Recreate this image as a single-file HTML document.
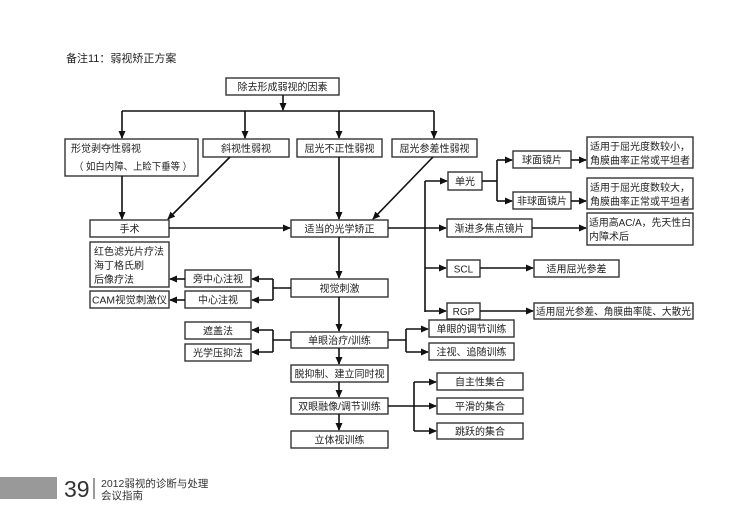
<!DOCTYPE html>
<html><head><meta charset="utf-8"><style>
html,body{margin:0;padding:0;background:#fff;}
svg{display:block;}
text{font-family:"Liberation Sans","Noto Sans CJK SC",sans-serif;font-size:10px;fill:#222;}
.b{fill:#fff;stroke:#333;stroke-width:1.4;}
.l{stroke:#111;stroke-width:1.6;fill:none;}
.a{stroke:#111;stroke-width:1.6;fill:none;marker-end:url(#m);}
</style></head><body>
<svg width="754" height="527" viewBox="0 0 754 527" xmlns="http://www.w3.org/2000/svg">
<defs><marker id="m" markerWidth="8" markerHeight="8" refX="7" refY="4" orient="auto" markerUnits="userSpaceOnUse"><path d="M0,0.5 L8,4 L0,7.5 Z" fill="#111"/></marker></defs>
<text x="66" y="62" style="font-size:11px">备注11：弱视矫正方案</text>

<rect class="b" x="226" y="78" width="113" height="17"/><text x="282.5" y="90.5" text-anchor="middle">除去形成弱视的因素</text>
<line class="a" x1="283" y1="95" x2="283" y2="110"/>
<line class="l" x1="122" y1="111" x2="434" y2="111"/>
<line class="a" x1="122" y1="111" x2="122" y2="138"/>
<line class="a" x1="245" y1="111" x2="245" y2="138"/>
<line class="a" x1="339" y1="111" x2="339" y2="138"/>
<line class="a" x1="434" y1="111" x2="434" y2="138"/>

<rect class="b" x="65" y="139" width="133" height="37"/><text x="71" y="152">形觉剥夺性弱视</text><text x="74" y="170" textLength="118" lengthAdjust="spacingAndGlyphs">（ 如白内障、上睑下垂等 ）</text>
<rect class="b" x="203" y="139" width="86" height="18"/><text x="246" y="152" text-anchor="middle">斜视性弱视</text>
<rect class="b" x="297" y="139" width="85" height="18"/><text x="339.5" y="152" text-anchor="middle">屈光不正性弱视</text>
<rect class="b" x="392" y="139" width="85" height="18"/><text x="434.5" y="152" text-anchor="middle">屈光参差性弱视</text>

<line class="a" x1="122" y1="176" x2="122" y2="219"/>
<line class="a" x1="230" y1="157" x2="168" y2="219"/>
<line class="a" x1="339" y1="157" x2="339" y2="219"/>
<line class="a" x1="433" y1="157" x2="373" y2="219"/>

<rect class="b" x="90" y="220" width="79" height="17"/><text x="129.5" y="232.5" text-anchor="middle">手术</text>
<rect class="b" x="291" y="220" width="97" height="17"/><text x="339.5" y="232.5" text-anchor="middle">适当的光学矫正</text>
<line class="a" x1="169" y1="228" x2="290" y2="228"/>
<line class="a" x1="388" y1="228" x2="446" y2="228"/>

<line class="l" x1="425" y1="181" x2="425" y2="312"/>
<line class="a" x1="425" y1="181" x2="447" y2="181"/>
<rect class="b" x="448" y="172" width="34" height="18"/><text x="465" y="185" text-anchor="middle">单光</text>
<line class="l" x1="482" y1="181" x2="497" y2="181"/>
<line class="l" x1="497" y1="160" x2="497" y2="201"/>
<line class="a" x1="497" y1="160" x2="512" y2="160"/>
<line class="a" x1="497" y1="201" x2="512" y2="201"/>
<rect class="b" x="513" y="151" width="58" height="17"/><text x="542" y="163.5" text-anchor="middle">球面镜片</text>
<rect class="b" x="513" y="192" width="58" height="17"/><text x="542" y="204.5" text-anchor="middle">非球面镜片</text>
<line class="a" x1="571" y1="160" x2="586" y2="160"/>
<line class="a" x1="571" y1="201" x2="586" y2="201"/>
<rect class="b" x="587" y="137" width="106" height="31"/><text x="590" y="150" textLength="100" lengthAdjust="spacingAndGlyphs">适用于屈光度数较小，</text><text x="590" y="164" textLength="100" lengthAdjust="spacingAndGlyphs">角膜曲率正常或平坦者</text>
<rect class="b" x="587" y="178" width="106" height="31"/><text x="590" y="191" textLength="100" lengthAdjust="spacingAndGlyphs">适用于屈光度数较大，</text><text x="590" y="205" textLength="100" lengthAdjust="spacingAndGlyphs">角膜曲率正常或平坦者</text>
<rect class="b" x="447" y="219" width="85" height="18"/><text x="489.5" y="232" text-anchor="middle">渐进多焦点镜片</text>
<line class="a" x1="532" y1="228" x2="586" y2="228"/>
<rect class="b" x="587" y="213" width="106" height="32"/><text x="589" y="226" textLength="102" lengthAdjust="spacingAndGlyphs">适用高AC/A，先天性白</text><text x="589" y="240">内障术后</text>
<line class="a" x1="425" y1="268" x2="446" y2="268"/>
<rect class="b" x="447" y="260" width="33" height="17"/><text x="463.5" y="272.5" text-anchor="middle">SCL</text>
<line class="a" x1="480" y1="268" x2="533" y2="268"/>
<rect class="b" x="534" y="260" width="85" height="17"/><text x="576.5" y="272.5" text-anchor="middle">适用屈光参差</text>
<line class="a" x1="425" y1="311" x2="446" y2="311"/>
<rect class="b" x="447" y="303" width="33" height="16"/><text x="463.5" y="315" text-anchor="middle">RGP</text>
<line class="a" x1="480" y1="311" x2="533" y2="311"/>
<rect class="b" x="534" y="303" width="159" height="16"/><text x="536" y="315" textLength="155" lengthAdjust="spacingAndGlyphs">适用屈光参差、角膜曲率陡、大散光</text>

<line class="a" x1="339" y1="237" x2="339" y2="278"/>
<rect class="b" x="291" y="279" width="97" height="18"/><text x="339.5" y="292" text-anchor="middle">视觉刺激</text>
<line class="l" x1="291" y1="288" x2="273" y2="288"/>
<line class="l" x1="273" y1="279" x2="273" y2="300"/>
<line class="a" x1="273" y1="279" x2="252" y2="279"/>
<line class="a" x1="273" y1="300" x2="252" y2="300"/>
<rect class="b" x="185" y="270" width="66" height="17"/><text x="218" y="282.5" text-anchor="middle">旁中心注视</text>
<rect class="b" x="185" y="291" width="66" height="17"/><text x="218" y="303.5" text-anchor="middle">中心注视</text>
<line class="a" x1="185" y1="279" x2="170" y2="279"/>
<line class="a" x1="185" y1="300" x2="170" y2="300"/>
<rect class="b" x="90" y="242" width="79" height="45"/><text x="94" y="255">红色滤光片疗法</text><text x="94" y="269">海丁格氏刷</text><text x="94" y="283">后像疗法</text>
<rect class="b" x="90" y="291" width="79" height="17"/><text x="92" y="303.5" textLength="75" lengthAdjust="spacingAndGlyphs">CAM视觉刺激仪</text>

<line class="a" x1="339" y1="297" x2="339" y2="331"/>
<rect class="b" x="291" y="332" width="97" height="16"/><text x="339.5" y="344" text-anchor="middle">单眼治疗/训练</text>
<line class="l" x1="291" y1="340" x2="273" y2="340"/>
<line class="l" x1="273" y1="330" x2="273" y2="352"/>
<line class="a" x1="273" y1="330" x2="252" y2="330"/>
<line class="a" x1="273" y1="352" x2="252" y2="352"/>
<rect class="b" x="185" y="322" width="66" height="17"/><text x="218" y="334.5" text-anchor="middle">遮盖法</text>
<rect class="b" x="185" y="344" width="66" height="17"/><text x="218" y="356.5" text-anchor="middle">光学压抑法</text>
<line class="l" x1="388" y1="340" x2="406" y2="340"/>
<line class="l" x1="406" y1="329" x2="406" y2="352"/>
<line class="a" x1="406" y1="329" x2="428" y2="329"/>
<line class="a" x1="406" y1="352" x2="428" y2="352"/>
<rect class="b" x="429" y="320" width="85" height="17"/><text x="471.5" y="332.5" text-anchor="middle">单眼的调节训练</text>
<rect class="b" x="429" y="343" width="85" height="17"/><text x="471.5" y="355.5" text-anchor="middle">注视、追随训练</text>

<line class="a" x1="339" y1="348" x2="339" y2="364"/>
<rect class="b" x="291" y="365" width="97" height="17"/><text x="339.5" y="377.5" text-anchor="middle">脱抑制、建立同时视</text>
<line class="a" x1="339" y1="382" x2="339" y2="397"/>
<rect class="b" x="291" y="398" width="97" height="16"/><text x="339.5" y="410" text-anchor="middle">双眼融像/调节训练</text>
<line class="a" x1="339" y1="414" x2="339" y2="430"/>
<rect class="b" x="291" y="431" width="97" height="17"/><text x="339.5" y="443.5" text-anchor="middle">立体视训练</text>
<line class="l" x1="388" y1="406" x2="414" y2="406"/>
<line class="l" x1="414" y1="382" x2="414" y2="431"/>
<line class="a" x1="414" y1="382" x2="436" y2="382"/>
<line class="a" x1="414" y1="406" x2="436" y2="406"/>
<line class="a" x1="414" y1="431" x2="436" y2="431"/>
<rect class="b" x="437" y="373" width="86" height="17"/><text x="480" y="385.5" text-anchor="middle">自主性集合</text>
<rect class="b" x="437" y="398" width="86" height="16"/><text x="480" y="410" text-anchor="middle">平滑的集合</text>
<rect class="b" x="437" y="423" width="86" height="16"/><text x="480" y="435" text-anchor="middle">跳跃的集合</text>

<rect x="0" y="477" width="57" height="22" fill="#999"/>
<text x="64" y="497" style="font-size:23px;fill:#333">39</text>
<line x1="94" y1="478" x2="94" y2="499" stroke="#333" stroke-width="1"/>
<text x="101" y="487" style="font-size:10.5px;fill:#333">2012弱视的诊断与处理</text>
<text x="101" y="499" style="font-size:10.5px;fill:#333">会议指南</text>
</svg>
</body></html>
